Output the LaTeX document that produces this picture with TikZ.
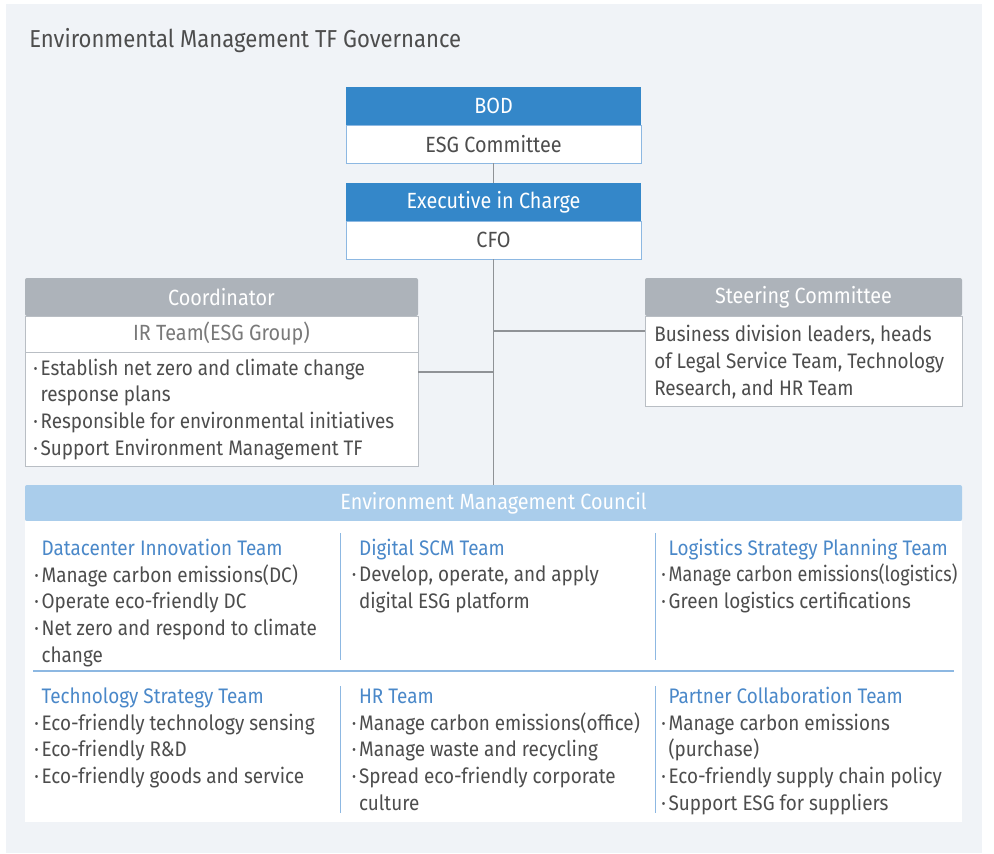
\documentclass[tikz,border=0pt]{standalone}
\usepackage{fontspec}
\usepackage{graphicx}
\setmainfont{Fira Sans}[FakeStretch=0.9]
\usetikzlibrary{positioning}
\definecolor{panelbg}{HTML}{F0F3F7}
\definecolor{headblue}{HTML}{3487C9}
\definecolor{edgeblue}{HTML}{8DB8E2}
\definecolor{headgrey}{HTML}{ADB3BA}
\definecolor{edgegrey}{HTML}{B9BEC4}
\definecolor{councilblue}{HTML}{AACDEB}
\definecolor{teamblue}{HTML}{4A88C9}
\definecolor{txtgrey}{HTML}{4D4D4D}
\definecolor{linkgrey}{HTML}{8F9296}
\newcommand{\bul}{\makebox[5.5pt][l]{\textperiodcentered}}
\newcommand{\bulpad}{\hspace*{5.5pt}}
\newcommand{\teamname}[1]{\bulpad\textcolor{teamblue}{#1}}
\newcommand{\squeeze}[1]{\scalebox{0.95}[1]{#1}}
\tikzset{
  bluehead/.style={fill=headblue,text=white,minimum width=221.25pt,minimum height=28.5pt,inner sep=0pt},
  bluebody/.style={fill=white,draw=edgeblue,minimum width=221.25pt,minimum height=28.5pt,inner sep=0pt},
  greyhead/.style={fill=headgrey,text=white,rounded corners=1.5pt,minimum height=28.5pt,inner sep=0pt},
  greybody/.style={fill=white,draw=edgegrey,inner sep=0pt},
  % base of a multi-line node is its last line
  bodytext/.style={anchor=base west,align=left,inner sep=0pt,font=\fontsize{15.75}{20}\selectfont},
  link/.style={draw=linkgrey,line width=0.8pt},
  divider/.style={draw=edgeblue,line width=0.8pt}
}
\begin{document}
\begin{tikzpicture}[x=0.75pt,y=-0.75pt,font=\fontsize{16.5}{20}\selectfont,text=txtgrey]
  \useasboundingbox (0,0) rectangle (994,853);
  \fill[panelbg] (6,4) rectangle (982,853);
  \node[anchor=base west,inner sep=0pt,font=\fontsize{18.4}{22}\selectfont] (title) at (29,47) {Environmental Management TF Governance};

  % top of the chain
  \node[bluehead] (bod) at (493.5,106) {BOD};
  \node[bluebody] (esg) at (493.5,144) {ESG Committee};
  \node[bluehead] (exec) at (493.5,202) {Executive in Charge};
  \node[bluebody] (cfo) at (493.5,240) {CFO};

  % coordinator
  \node[greyhead,minimum width=294.75pt] (coord) at (221.5,297) {Coordinator};
  \node[greybody,minimum width=294.75pt,minimum height=27pt,text=txtgrey!75] (irteam) at (221.5,334) {IR Team(ESG Group)};
  \node[greybody,minimum width=294.75pt,minimum height=85.5pt] (coordbody) at (221.5,409) {};
  \node[bodytext] (coordtext) at (33,455) {\bul Establish net zero and climate change\\
    \bulpad response plans\\
    \bul Responsible for environmental initiatives\\
    \bul Support Environment Management TF};

  % steering committee
  \node[greyhead,minimum width=237.75pt] (steer) at (803.5,297) {Steering Committee};
  \node[greybody,minimum width=237.75pt,minimum height=67.5pt] (steerbody) at (803.5,361) {};
  \node[bodytext] (steertext) at (654,395) {Business division leaders, heads\\
    of Legal Service Team, Technology\\
    Research, and HR Team};

  % council
  \node[greyhead,fill=councilblue,minimum width=702.75pt,minimum height=27pt] (council) at (493.5,503) {Environment Management Council};
  \node[fill=white,minimum width=702.75pt,minimum height=225.75pt,inner sep=0pt] (councilbody) at (493.5,671.5) {};

  % connectors
  \coordinate (cj) at (494,372);
  \coordinate (sj) at (494,331);
  \draw[link] (esg.south) -- (exec.north);
  \draw[link] (cfo.south) -- (council.north);
  \draw[link] (cj) -- (cj -| coordbody.east);
  \draw[link] (sj) -- (sj -| steerbody.west);

  % team grid
  \draw[divider] (33,671) -- (954,671);
  \foreach \xx in {340.5,655.5} {
    \draw[divider] (\xx,533) -- (\xx,660);
    \draw[divider] (\xx,686) -- (\xx,813);
  }

  \node[bodytext] (dcteam) at (34,662) {\teamname{Datacenter Innovation Team}\\
    \bul Manage carbon emissions(DC)\\
    \bul Operate eco-friendly DC\\
    \bul Net zero and respond to climate\\
    \bulpad change};
  \node[bodytext] (scmteam) at (351.5,608.5) {\teamname{Digital SCM Team}\\
    \bul Develop, operate, and apply\\
    \bulpad digital ESG platform};
  \node[bodytext] (logiteam) at (661,608.5) {\teamname{Logistics Strategy Planning Team}\\
    \bul \squeeze{Manage carbon emissions(logistics)}\\
    \bul Green logistics certifications};
  \node[bodytext] (techteam) at (34,783.5) {\teamname{Technology Strategy Team}\\
    \bul Eco-friendly technology sensing\\
    \bul Eco-friendly R\&D\\
    \bul Eco-friendly goods and service};
  \node[bodytext] (hrteam) at (351.5,810) {\teamname{HR Team}\\
    \bul Manage carbon emissions(office)\\
    \bul Manage waste and recycling\\
    \bul Spread eco-friendly corporate\\
    \bulpad culture};
  \node[bodytext] (partnerteam) at (661,810) {\teamname{Partner Collaboration Team}\\
    \bul Manage carbon emissions\\
    \bulpad (purchase)\\
    \bul Eco-friendly supply chain policy\\
    \bul Support ESG for suppliers};
\end{tikzpicture}
\end{document}
